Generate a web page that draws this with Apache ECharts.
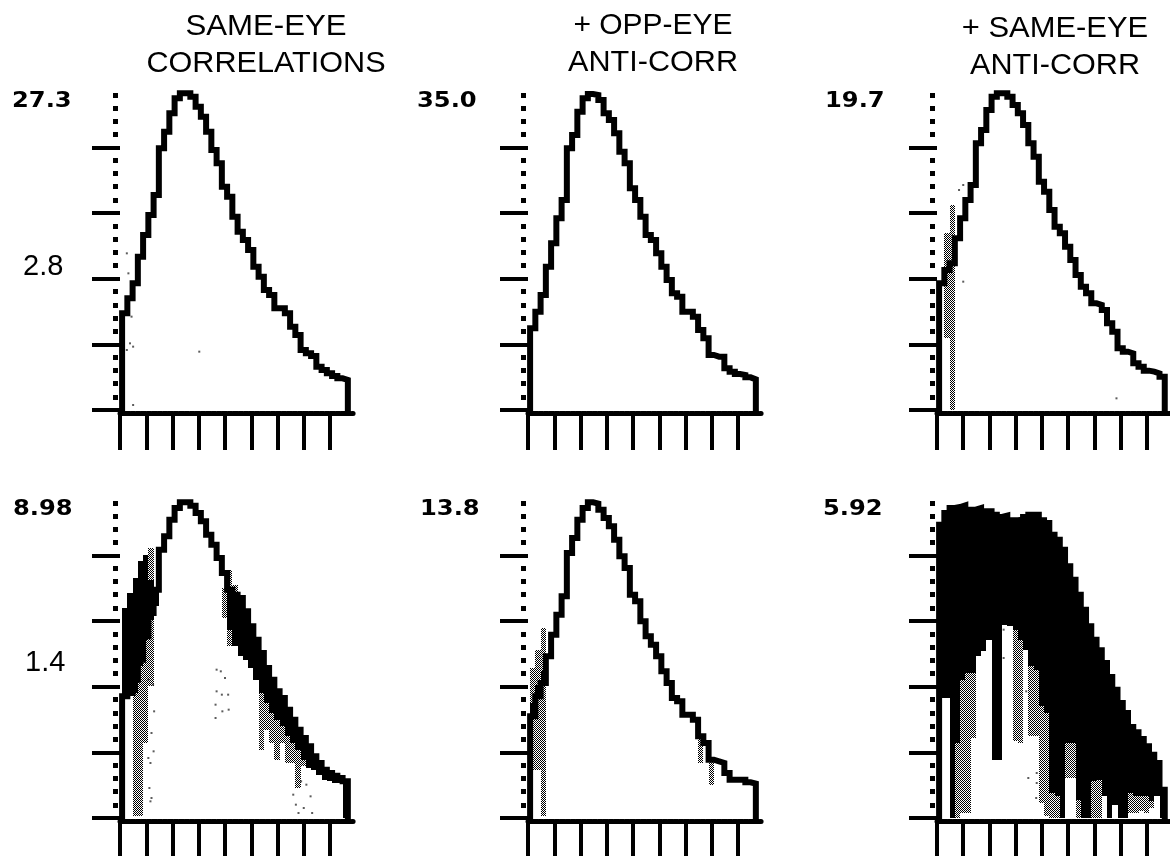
<!DOCTYPE html>
<html>
<head>
<meta charset="utf-8">
<style>html,body{margin:0;padding:0;background:#fff}#c{width:1170px;height:856px}</style>
<script src="https://cdn.jsdelivr.net/npm/echarts@6/dist/echarts.min.js"></script>
</head>
<body>
<div id="c"></div>
<script>
// Values (arbitrary amplitude, 950 = panel peak).
const p1Curve=[290,335,380,460,525,585,645,785,835,890,935,950,950,940,910,880,835,780,740,670,640,580,535,510,480,430,400,360,345,305,305,290,250,225,180,170,162,130,120,110,102,95,90];
const p2Curve=[245,295,345,430,500,575,630,785,825,895,935,948,945,930,890,870,830,775,740,665,630,580,525,510,470,430,390,350,340,295,295,280,240,215,165,160,160,125,115,108,105,98,92];
const p3Curve=[380,420,440,515,575,630,675,800,840,900,940,950,950,940,915,890,855,800,760,685,655,600,550,530,490,450,405,370,350,320,315,300,260,235,185,175,170,140,130,118,115,110,100];
const p4Curve=[365,375,415,475,545,615,685,805,845,895,930,947,947,937,915,890,850,820,780,735,685,670,660,620,575,535,495,450,415,380,360,325,295,265,240,215,185,165,145,135,127,120,110];
const p5Curve=[305,365,405,485,550,610,665,795,840,895,930,947,943,925,900,875,835,785,750,670,650,590,545,520,485,440,405,360,350,310,310,295,245,225,175,170,165,135,115,115,115,107,103];
const p6Curve=[880,915,930,933,938,925,925,930,910,920,910,903,907,880,893,895,903,910,910,893,885,850,835,805,755,715,670,625,575,535,503,465,423,385,345,315,273,257,237,215,190,165,85];

const p3Gray =[0,530,615,0,0,0,0,0,0,0,0,0,0,0,0,0,0,0,0,0,0,0,0,0,0,0,0,0,0,0,0,0,0,0,0,0,0,0,0,0,0,0,0];
const p3White=[0,215,0,0,0,0,0,0,0,0,0,0,0,0,0,0,0,0,0,0,0,0,0,0,0,0,0,0,0,0,0,0,0,0,0,0,0,0,0,0,0,0,0];

const p4GrayOuter=[0,0,0,0,0,810,0,0,0,0,0,0,0,0,0,0,0,0,0,0,745,700,0,0,0,0,0,0,0,0,0,0,0,0,0,0,0,0,0,0,0,0,0];
const p4Black=[630,675,720,770,790,715,685,0,0,0,0,0,0,0,0,0,0,0,0,0,685,670,660,620,575,535,495,450,415,380,360,325,295,265,240,215,185,165,145,135,127,120,110];
const p4GrayInner=[365,370,375,455,535,595,635,0,0,0,0,0,0,0,0,0,0,0,0,690,565,515,485,475,450,415,375,345,315,295,275,245,225,205,175,150,145,130,115,110,105,105,0];
const p4White=[365,370,5,5,225,395,635,0,0,0,0,0,0,0,0,0,0,0,0,600,515,515,485,475,450,415,205,265,225,175,225,165,165,90,155,150,145,130,115,110,105,105,0];

const p5GrayOuter=[450,505,570,0,0,0,0,0,0,0,0,0,0,0,0,0,0,0,0,0,0,0,0,0,0,0,0,0,0,0,0,0,0,0,0,0,0,0,0,0,0,0,0];
const p5Black=[345,400,440,0,0,0,0,0,0,0,0,0,0,0,0,0,0,0,0,0,0,0,0,0,0,0,0,0,0,0,0,0,0,0,0,0,0,0,0,0,0,0,0];
const p5GrayInner=[305,365,405,0,0,0,0,0,0,0,0,0,0,0,0,0,0,0,0,0,0,0,0,0,0,0,0,0,0,0,0,0,245,0,175,0,0,0,0,0,0,0,0];
const p5White=[145,145,5,0,0,0,0,0,0,0,0,0,0,0,0,0,0,0,0,0,0,0,0,0,0,0,0,0,0,0,0,0,165,0,100,0,0,0,0,0,0,0,0];

const p6GrayInner=[360,360,0,225,415,435,435,485,500,535,175,175,580,575,565,535,505,455,445,335,315,75,65,0,225,225,55,0,0,110,115,65,0,40,0,0,75,65,65,65,50,65,0];
const p6White=[360,360,0,0,15,15,240,485,500,535,175,175,580,575,230,225,505,245,245,45,5,0,0,0,120,120,0,0,0,0,0,65,0,40,0,0,15,15,20,15,30,65,0];

const p1Specks=[[1.3,470],[1.6,410],[2.2,280],[1.9,200],[2.5,190],[1.3,180],[2.5,15],[15.1,175]];
const p3Specks=[[5,385],[34.2,35],[4.2,660],[5,675]];
const p4Specks=[[5.4,415],[6.3,400],[6.5,320],[6.0,255],[5.4,180],[6.4,200],[5.8,165],[5.6,90],[6.0,60],[5.8,50],[18.4,445],[19.2,440],[20.0,420],[18.4,380],[19.4,370],[20.6,370],[18.2,340],[19.5,320],[20.7,325],[18.2,300],[33,70],[33.5,40],[34.5,110],[35.5,100],[36.3,65],[35,30],[34,15],[36.6,15]];
const p6Specks=[[12.7,565],[12.7,480],[17,380],[17.4,120],[19,135],[19,105],[18.9,60]];

const majorTicks=[0,197,394,591,788];
const minorDots=[39,79,118,158,236,276,315,355,433,473,512,552,630,670,709,749,827,867,906,945];
const xTicks=[0,5,10,15,20,25,30,35,40];

const peakLabels=['27.3','35.0','19.7','8.98','13.8','5.92'];
const scaleLabels=['2.8','1.4'];
const titleLines=[['SAME-EYE','CORRELATIONS'],['+ OPP-EYE','ANTI-CORR'],['+ SAME-EYE','ANTI-CORR']];

// 2x2 checker: the halftone grey of the original print
const cv=document.createElement('canvas');cv.width=2;cv.height=2;
const cx=cv.getContext('2d');cx.fillStyle='#fff';cx.fillRect(0,0,2,2);cx.fillStyle='#000';cx.fillRect(0,0,1,1);cx.fillRect(1,1,1,1);
const GRAY={image:cv,repeat:'repeat'};

const BIN_START=0.4;
const lefts=[120,528,937], baselines=[410,818];
const panels=[
 {c:0,r:0,curve:p1Curve,layers:[],specks:p1Specks},
 {c:1,r:0,curve:p2Curve,layers:[],specks:[]},
 {c:2,r:0,curve:p3Curve,layers:[[GRAY,p3Gray],['#fff',p3White]],specks:p3Specks},
 {c:0,r:1,curve:p4Curve,layers:[[GRAY,p4GrayOuter],['#000',p4Black],[GRAY,p4GrayInner],['#fff',p4White]],specks:p4Specks},
 {c:1,r:1,curve:p5Curve,layers:[[GRAY,p5GrayOuter],['#000',p5Black],[GRAY,p5GrayInner],['#fff',p5White]],specks:[]},
 {c:2,r:1,curve:p6Curve,layers:[['#000',p6Curve],[GRAY,p6GrayInner],['#fff',p6White]],specks:p6Specks}
];

const binRect=fill=>(params,api)=>{
  const x=api.value(0), v=api.value(1);
  const a=api.coord([x,v]), b=api.coord([x+1,0]);
  const x0=Math.round(a[0]), x1=Math.round(b[0]), y0=Math.round(a[1]), y1=Math.round(b[1]);
  return {type:'rect',shape:{x:x0,y:y0,width:x1-x0,height:y1-y0},style:{fill}};
};

const grid=[],xAxis=[],yAxis=[],series=[];
panels.forEach((p,i)=>{
  const base=baselines[p.r];
  grid.push({left:lefts[p.c],top:base-950/3,width:44.4*5.25,height:950/3});
  xAxis.push({type:'value',gridIndex:i,min:0,max:44.4,interval:5,offset:3,
    axisLine:{show:true,onZero:false,lineStyle:{color:'#000',width:5,type:[4,1.4]}},
    axisTick:{show:true,customValues:xTicks,length:37,lineStyle:{color:'#000',width:4}},
    axisLabel:{show:false},splitLine:{show:false}});
  yAxis.push({type:'value',gridIndex:i,min:0,max:950,
    axisLine:{show:false},
    axisTick:{show:true,customValues:majorTicks,length:28,lineStyle:{color:'#000',width:4}},
    axisLabel:{show:false},splitLine:{show:false}});
  yAxis.push({type:'value',gridIndex:i,min:0,max:950,position:'left',offset:2,
    axisLine:{show:false},
    axisTick:{show:true,customValues:minorDots,length:5,lineStyle:{color:'#000',width:5}},
    axisLabel:{show:false},splitLine:{show:false}});
  p.layers.forEach(([fill,vals])=>{
    series.push({type:'custom',xAxisIndex:i,yAxisIndex:i*2,silent:true,clip:false,renderItem:binRect(fill),
      encode:{x:0,y:1},
      data:vals.map((v,k)=>[BIN_START+k,v]).filter(d=>d[1]>0)});
  });
  const pts=[[BIN_START,0]];
  p.curve.forEach((v,k)=>{pts.push([BIN_START+k,v]);pts.push([BIN_START+k+1,v]);});
  pts.push([BIN_START+p.curve.length,0]);
  series.push({type:'line',xAxisIndex:i,yAxisIndex:i*2,data:pts,showSymbol:false,symbol:'none',clip:false,silent:true,
    lineStyle:{color:'#000',width:6,join:'miter',cap:'square'}});
  if(p.specks.length) series.push({type:'scatter',xAxisIndex:i,yAxisIndex:i*2,symbol:'rect',symbolSize:2,silent:true,
    itemStyle:{color:'#333'},data:p.specks});
});

const txt=(s,x,y,font,align,sx)=>({type:'text',x,y,silent:true,scaleX:sx||1,
  style:{text:s,font,fill:'#000',textAlign:align||'left',textVerticalAlign:'middle'}});
const TITLE='30px "Liberation Sans"', MONO='bold 22px "DejaVu Sans"', NUM='29px "Liberation Sans"';
const g=[];
const titleX=[266,653,1055], titleY=[[27,64],[26,63],[29,66]], titleSX=[[1.04,1.02],[1,1.02],[1.03,1.02]];
titleLines.forEach((ls,c)=>ls.forEach((s,l)=>g.push(txt(s,titleX[c],titleY[c][l],TITLE,'center',titleSX[c][l]))));
const labX=[12,417,825,13,420,823], labY=[101,101,101,509,509,509];
peakLabels.forEach((s,i)=>g.push(txt(s,labX[i],labY[i],MONO,'left',1.1)));
g.push(txt(scaleLabels[0],23,267,NUM));
g.push(txt(scaleLabels[1],25,663,NUM));

const chart=echarts.init(document.getElementById('c'),null,{renderer:'canvas'});
chart.setOption({animation:false,backgroundColor:'#fff',grid,xAxis,yAxis,series,graphic:{elements:g}});
</script>
</body>
</html>
